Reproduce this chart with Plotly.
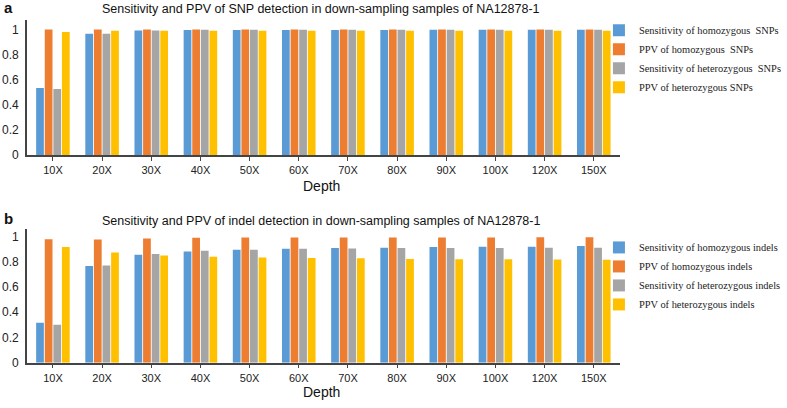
import plotly.graph_objects as go

depths = ["10X", "20X", "30X", "40X", "50X", "60X", "70X", "80X", "90X", "100X", "120X", "150X"]

# Panel a: SNPs
snp_sens_hom = [0.535, 0.966, 0.992, 0.995, 0.995, 0.996, 0.996, 0.996, 0.997, 0.997, 0.997, 0.997]
snp_ppv_hom = [0.999, 0.999, 0.999, 0.999, 0.999, 0.999, 0.999, 0.999, 0.999, 0.999, 0.999, 0.999]
snp_sens_het = [0.527, 0.966, 0.992, 0.997, 0.997, 0.997, 0.997, 0.997, 0.997, 0.997, 0.998, 0.998]
snp_ppv_het = [0.980, 0.990, 0.990, 0.990, 0.990, 0.990, 0.990, 0.990, 0.990, 0.990, 0.990, 0.990]

# Panel b: indels
indel_sens_hom = [0.317, 0.766, 0.855, 0.881, 0.896, 0.904, 0.909, 0.912, 0.917, 0.919, 0.919, 0.925]
indel_ppv_hom = [0.979, 0.977, 0.984, 0.990, 0.992, 0.992, 0.992, 0.992, 0.992, 0.992, 0.995, 0.995]
indel_sens_het = [0.301, 0.771, 0.862, 0.888, 0.896, 0.904, 0.906, 0.909, 0.909, 0.909, 0.912, 0.912]
indel_ppv_het = [0.917, 0.873, 0.849, 0.839, 0.834, 0.831, 0.829, 0.823, 0.821, 0.821, 0.818, 0.816]

snp_names = ["Sensitivity of homozygous\u00a0 SNPs", "PPV of homozygous\u00a0 SNPs",
             "Sensitivity of heterozygous\u00a0 SNPs", "PPV of heterozygous SNPs"]
indel_names = ["Sensitivity of homozygous indels", "PPV of homozygous indels",
               "Sensitivity of heterozygous indels", "PPV of heterozygous indels"]
colors = ["#5B9BD5", "#ED7D31", "#A5A5A5", "#FFC000"]

fig = go.Figure()
for name, vals, c in zip(snp_names, [snp_sens_hom, snp_ppv_hom, snp_sens_het, snp_ppv_het], colors):
    fig.add_trace(go.Bar(x=depths, y=vals, name=name, marker_color=c, marker_line_width=0,
                         xaxis="x", yaxis="y", legend="legend"))
for name, vals, c in zip(indel_names, [indel_sens_hom, indel_ppv_hom, indel_sens_het, indel_ppv_het], colors):
    fig.add_trace(go.Bar(x=depths, y=vals, name=name, marker_color=c, marker_line_width=0,
                         xaxis="x2", yaxis="y2", legend="legend2"))

W, H = 787, 408
xd = [27 / W, 623 / W]
axis_font = dict(family="Arial, Liberation Sans, sans-serif", size=11, color="#222")
common_x = dict(domain=xd, showline=True, linecolor="#444", linewidth=1.5, ticks="outside",
                ticklen=4, tickcolor="#444", tickfont=axis_font, showgrid=False,
                range=[-0.53, 11.53], fixedrange=True)
common_y = dict(showline=True, linecolor="#444", linewidth=1.5, ticks="", showgrid=False,
                zeroline=False, tickvals=[0, 0.2, 0.4, 0.6, 0.8, 1],
                ticktext=["0", "0.2", "0.4", "0.6", "0.8", "1"],
                tickfont=dict(family="Arial, Liberation Sans, sans-serif", size=12, color="#222"),
                ticklabelstandoff=4, fixedrange=True)

legend_font = dict(family="Liberation Serif, Times New Roman, serif", size=10.4, color="#222")

fig.update_layout(
    width=W, height=H, margin=dict(l=0, r=0, t=0, b=0),
    paper_bgcolor="white", plot_bgcolor="white",
    barmode="group", bargap=0.3, bargroupgap=0.1,
    xaxis=dict(**common_x, anchor="y"),
    yaxis=dict(**common_y, domain=[1 - 158 / H, 1 - 20 / H], range=[0, 1.078], anchor="x"),
    xaxis2=dict(**common_x, anchor="y2"),
    yaxis2=dict(**common_y, domain=[1 - 369 / H, 1 - 233 / H], range=[0, 1.06], anchor="x2"),
    legend=dict(x=602 / W, y=1 - 16 / H, xanchor="left", yanchor="top", font=legend_font,
                bgcolor="rgba(0,0,0,0)", itemwidth=30, tracegroupgap=0),
    legend2=dict(x=602 / W, y=1 - 237 / H, xanchor="left", yanchor="top", font=legend_font,
                 bgcolor="rgba(0,0,0,0)", itemwidth=30, tracegroupgap=0),
    showlegend=True,
)

title_font = dict(family="Arial, Liberation Sans, sans-serif", size=12.5, color="#111")
ann = [
    dict(text="Sensitivity and PPV of SNP detection in down-sampling samples of NA12878-1",
         x=323 / W, y=1 - 9 / H, font=title_font),
    dict(text="Sensitivity and PPV of indel detection in down-sampling samples of NA12878-1",
         x=323 / W, y=1 - 225 / H, font=title_font),
    dict(text="<b>a</b>", x=9 / W, y=1 - 8 / H, font=dict(family="Arial, sans-serif", size=15, color="#111")),
    dict(text="<b>b</b>", x=9 / W, y=1 - 222 / H, font=dict(family="Arial, sans-serif", size=15, color="#111")),
    dict(text="Depth", x=323 / W, y=1 - 189 / H, font=dict(family="Arial, Liberation Sans, sans-serif", size=14, color="#111")),
    dict(text="Depth", x=323 / W, y=1 - 399 / H, font=dict(family="Arial, Liberation Sans, sans-serif", size=14, color="#111")),
]
for a in ann:
    fig.add_annotation(xref="paper", yref="paper", showarrow=False, xanchor="center", yanchor="middle", **a)

fig.write_html("out.html", config={"displayModeBar": False},
               post_script="document.body.style.margin='0px';")
